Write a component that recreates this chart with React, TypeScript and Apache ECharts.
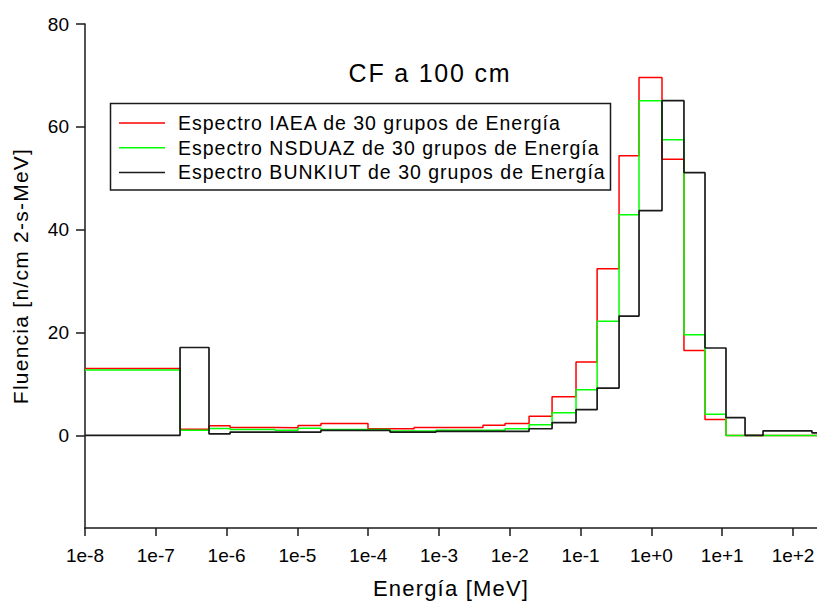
import React, { useEffect, useRef } from 'react';
import * as echarts from 'echarts';

// Bin edges of the 30 energy groups (MeV)
const energyEdges = [
  1e-8, 2.2e-7, 5.64e-7, 1.12e-6, 2.29e-6, 4.83e-6, 1.02e-5, 2.15e-5, 4.55e-5, 9.93e-5,
  2.03e-4, 4.44e-4, 9.08e-4, 1.98e-3, 4.18e-3, 8.55e-3, 1.87e-2, 3.95e-2, 8.61e-2, 0.171,
  0.349, 0.668, 1.41, 2.88, 5.71, 11.3, 21.0, 37.7, 82.2, 185, 400,
];

const iaeaValues = [
  13.0, 1.2, 1.9, 1.55, 1.55, 1.5, 1.95, 2.3, 2.3, 1.3,
  1.3, 1.55, 1.55, 1.55, 2.0, 2.3, 3.75, 7.5, 14.3, 32.4,
  54.4, 69.6, 53.7, 16.5, 3.1, 0, 0, 0, 0, 0,
];

const nsduazValues = [
  12.7, 1.0, 1.35, 1.15, 1.15, 1.0, 1.4, 1.15, 1.15, 1.15,
  0.85, 0.85, 1.0, 1.0, 1.0, 1.3, 2.1, 4.4, 8.9, 22.2,
  42.9, 65.1, 57.5, 19.6, 4.1, 0, 0, 0, 0, 0,
];

const bunkiutValues = [
  0, 17.1, 0.3, 0.65, 0.65, 0.65, 0.65, 1.0, 1.0, 1.0,
  0.65, 0.65, 0.8, 0.8, 0.8, 0.8, 1.3, 2.5, 5.0, 9.2,
  23.2, 43.7, 65.1, 51.1, 17.0, 3.45, 0, 0.9, 0.9, 0.5,
];

const seriesNames = [
  'Espectro IAEA de 30 grupos de Energía',
  'Espectro NSDUAZ de 30 grupos de Energía',
  'Espectro BUNKIUT de 30 grupos de Energía',
];

const xTickValues = [1e-8, 1e-7, 1e-6, 1e-5, 1e-4, 1e-3, 1e-2, 1e-1, 1e0, 1e1, 1e2];
const yTickValues = [0, 20, 40, 60, 80];

const titleText = 'CF a 100 cm';
const xName = 'Energía [MeV]';
const yName = 'Fluencia [n/cm 2-s-MeV]';

const FONT = "'Liberation Sans', Arial, sans-serif";

function toSteps(values: number[]): [number, number][] {
  const pts: [number, number][] = values.map((v, i) => [energyEdges[i], v]);
  pts.push([energyEdges[values.length], values[values.length - 1]]);
  return pts;
}

function expLabel(v: number): string {
  const e = Math.round(Math.log10(v));
  return '1e' + (e >= 0 ? '+' + e : String(e));
}

const css = `
body { margin: 0; }
#chart-root text[style*="19.5px"] { letter-spacing: 1px; }
#chart-root text[style*="21px"] { letter-spacing: 1.25px; }
#chart-root text[style*="22px"] { letter-spacing: 1.2px; }
#chart-root text[style*="25px"] { letter-spacing: 1.8px; }
`;

export default function App() {
  const ref = useRef<HTMLDivElement>(null);

  useEffect(() => {
    if (!ref.current) return;
    const chart = echarts.init(ref.current, undefined, { renderer: 'svg' });
    const colors = ['#ff0000', '#00ff00', '#1a1a1a'];
    const widths = [1.5, 1.5, 1.7];
    const datasets = [iaeaValues, nsduazValues, bunkiutValues];

    chart.setOption({
      animation: false,
      backgroundColor: '#ffffff',
      grid: {
        left: 85,
        right: 0,
        top: 24,
        bottom: 73,
        containLabel: false,
        outerBoundsMode: 'none',
      },
      legend: {
        orient: 'vertical',
        left: 119,
        top: 113,
        padding: 0,
        itemGap: 4.7,
        itemWidth: 46,
        itemHeight: 20,
        icon: 'path://M0,0H46V1.5H0Z',
        symbolKeepAspect: true,
        data: seriesNames,
        textStyle: {
          fontFamily: FONT,
          fontSize: 19.5,
          color: '#000',
          lineHeight: 20,
          padding: [0, 0, 0, 8],
        },
      },
      graphic: [
        {
          type: 'rect',
          shape: { x: 110.5, y: 103.5, width: 500, height: 86.5 },
          style: { fill: 'none', stroke: '#1a1a1a', lineWidth: 1.5 },
          silent: true,
        },
        {
          type: 'text',
          x: 430,
          y: 73,
          style: {
            text: titleText,
            fontFamily: FONT,
            fontSize: 25,
            fill: '#000',
            textAlign: 'center',
            textVerticalAlign: 'middle',
          },
        },
      ],
      xAxis: {
        type: 'log',
        logBase: 10,
        min: 1e-8,
        max: 218,
        name: xName,
        nameLocation: 'middle',
        nameGap: 49,
        nameTextStyle: { fontFamily: FONT, fontSize: 22, color: '#000' },
        axisLine: { show: true, onZero: false, lineStyle: { color: '#1a1a1a', width: 1.5 } },
        axisTick: {
          show: true,
          customValues: xTickValues,
          length: 8,
          lineStyle: { color: '#1a1a1a', width: 1.5 },
        },
        axisLabel: {
          customValues: xTickValues,
          formatter: (v: number) => expLabel(v),
          fontFamily: FONT,
          fontSize: 19,
          color: '#000',
          margin: 18,
        },
        minorTick: { show: false },
        splitLine: { show: false },
      },
      yAxis: {
        type: 'value',
        min: -18,
        max: 80,
        name: yName,
        nameLocation: 'middle',
        nameRotate: 90,
        nameGap: 54,
        nameTextStyle: { fontFamily: FONT, fontSize: 21, color: '#000' },
        axisLine: { show: true, onZero: false, lineStyle: { color: '#1a1a1a', width: 1.5 } },
        axisTick: {
          show: true,
          customValues: yTickValues,
          length: 9,
          lineStyle: { color: '#1a1a1a', width: 1.5 },
        },
        axisLabel: {
          customValues: yTickValues,
          fontFamily: FONT,
          fontSize: 19,
          color: '#000',
          margin: 16,
        },
        splitLine: { show: false },
      },
      series: datasets.map((vals, i) => ({
        name: seriesNames[i],
        type: 'line',
        step: 'end',
        symbol: 'none',
        showSymbol: false,
        clip: true,
        data: toSteps(vals),
        lineStyle: { color: colors[i], width: widths[i] },
        itemStyle: { color: colors[i] },
        emphasis: { disabled: true },
      })),
    });

    return () => {
      chart.dispose();
    };
  }, []);

  return (
    <>
      <style>{css}</style>
      <div id="chart-root" ref={ref} style={{ width: 817, height: 601 }} />
    </>
  );
}
